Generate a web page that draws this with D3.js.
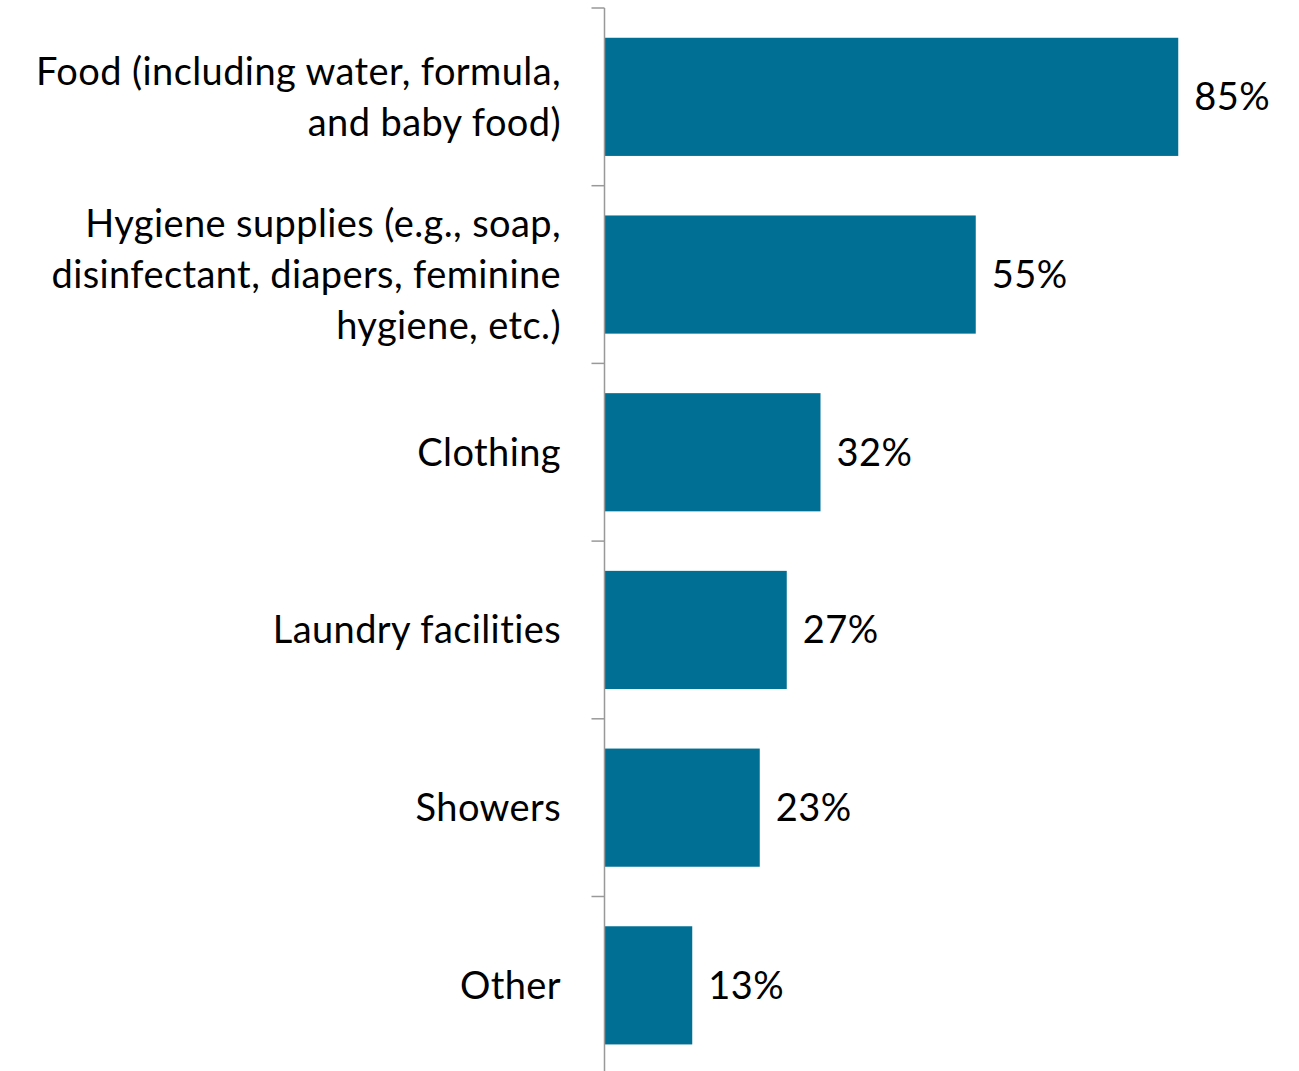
<!DOCTYPE html>
<html>
<head>
<meta charset="utf-8">
<script src="https://cdn.jsdelivr.net/npm/d3@7"></script>
<style>
	body { margin: 0; background: #fff; }
	svg { display: block; }
</style>
</head>
<body>
<div id="chart"></div>
<script>
const categories = [
	['Food (including water, formula,', 'and baby food)'],
	['Hygiene supplies (e.g., soap,', 'disinfectant, diapers, feminine', 'hygiene, etc.)'],
	['Clothing'],
	['Laundry facilities'],
	['Showers'],
	['Other']
];
const values = [85, 55, 32, 27, 23, 13];
const valueLabels = ['85%', '55%', '32%', '27%', '23%', '13%'];

const width = 1299;
const height = 1071;
const margin = { top: 8, right: 0, bottom: 0, left: 604.5 };

const svg = d3
	.select('#chart')
	.append('svg')
	.attr('width', width)
	.attr('height', height);

const fontFamily = 'Lato, "Open Sans", sans-serif';
const fontSize = '38px';
const letterSpacing = '0.4px';

const keys = d3.range(categories.length);

const yScale = d3.scaleBand().domain(keys).range([ margin.top, margin.top + 6 * 177.7 ]).paddingInner(0.335).paddingOuter(0.1675);

// 100% -> 675px
const xScale = d3.scaleLinear().domain([ 0, 100 ]).range([ margin.left, margin.left + 675 ]);

// bars
svg
	.selectAll('rect.bar')
	.data(values)
	.enter()
	.append('rect')
	.attr('class', 'bar')
	.attr('x', xScale(0))
	.attr('y', (d, i) => yScale(i))
	.attr('width', (d) => xScale(d) - xScale(0))
	.attr('height', yScale.bandwidth())
	.style('fill', '#006F94');

// axis line + ticks between categories
const step = yScale.step();
svg
	.append('line')
	.attr('x1', margin.left)
	.attr('x2', margin.left)
	.attr('y1', margin.top)
	.attr('y2', height)
	.style('stroke', '#999')
	.style('stroke-width', 1.5);

svg
	.selectAll('line.tick')
	.data(d3.range(categories.length))
	.enter()
	.append('line')
	.attr('class', 'tick')
	.attr('x1', margin.left - 13)
	.attr('x2', margin.left)
	.attr('y1', (d) => margin.top + d * step)
	.attr('y2', (d) => margin.top + d * step)
	.style('stroke', '#999')
	.style('stroke-width', 1.5);

// category labels
const lineHeight = 51;
const labelG = svg
	.selectAll('text.cat')
	.data(categories)
	.enter()
	.append('text')
	.attr('class', 'cat')
	.attr('text-anchor', 'end')
	.style('font-family', fontFamily)
	.style('font-size', fontSize)
	.style('letter-spacing', letterSpacing)
	.style('fill', '#000');

labelG.each(function(lines, i) {
	const cy = yScale(i) + yScale.bandwidth() / 2;
	const start = cy - (lines.length - 1) * lineHeight / 2;
	d3
		.select(this)
		.selectAll('tspan')
		.data(lines)
		.enter()
		.append('tspan')
		.attr('x', 561)
		.attr('y', (d, j) => start + j * lineHeight)
		.attr('dy', '0.35em')
		.text((d) => d);
});

// value labels
svg
	.selectAll('text.val')
	.data(values)
	.enter()
	.append('text')
	.attr('class', 'val')
	.attr('x', (d) => xScale(d) + 16)
	.attr('y', (d, i) => yScale(i) + yScale.bandwidth() / 2)
	.attr('dy', '0.35em')
	.style('font-family', fontFamily)
	.style('font-size', fontSize)
	.style('letter-spacing', letterSpacing)
	.style('fill', '#000')
	.text((d, i) => valueLabels[i]);
</script>
</body>
</html>
